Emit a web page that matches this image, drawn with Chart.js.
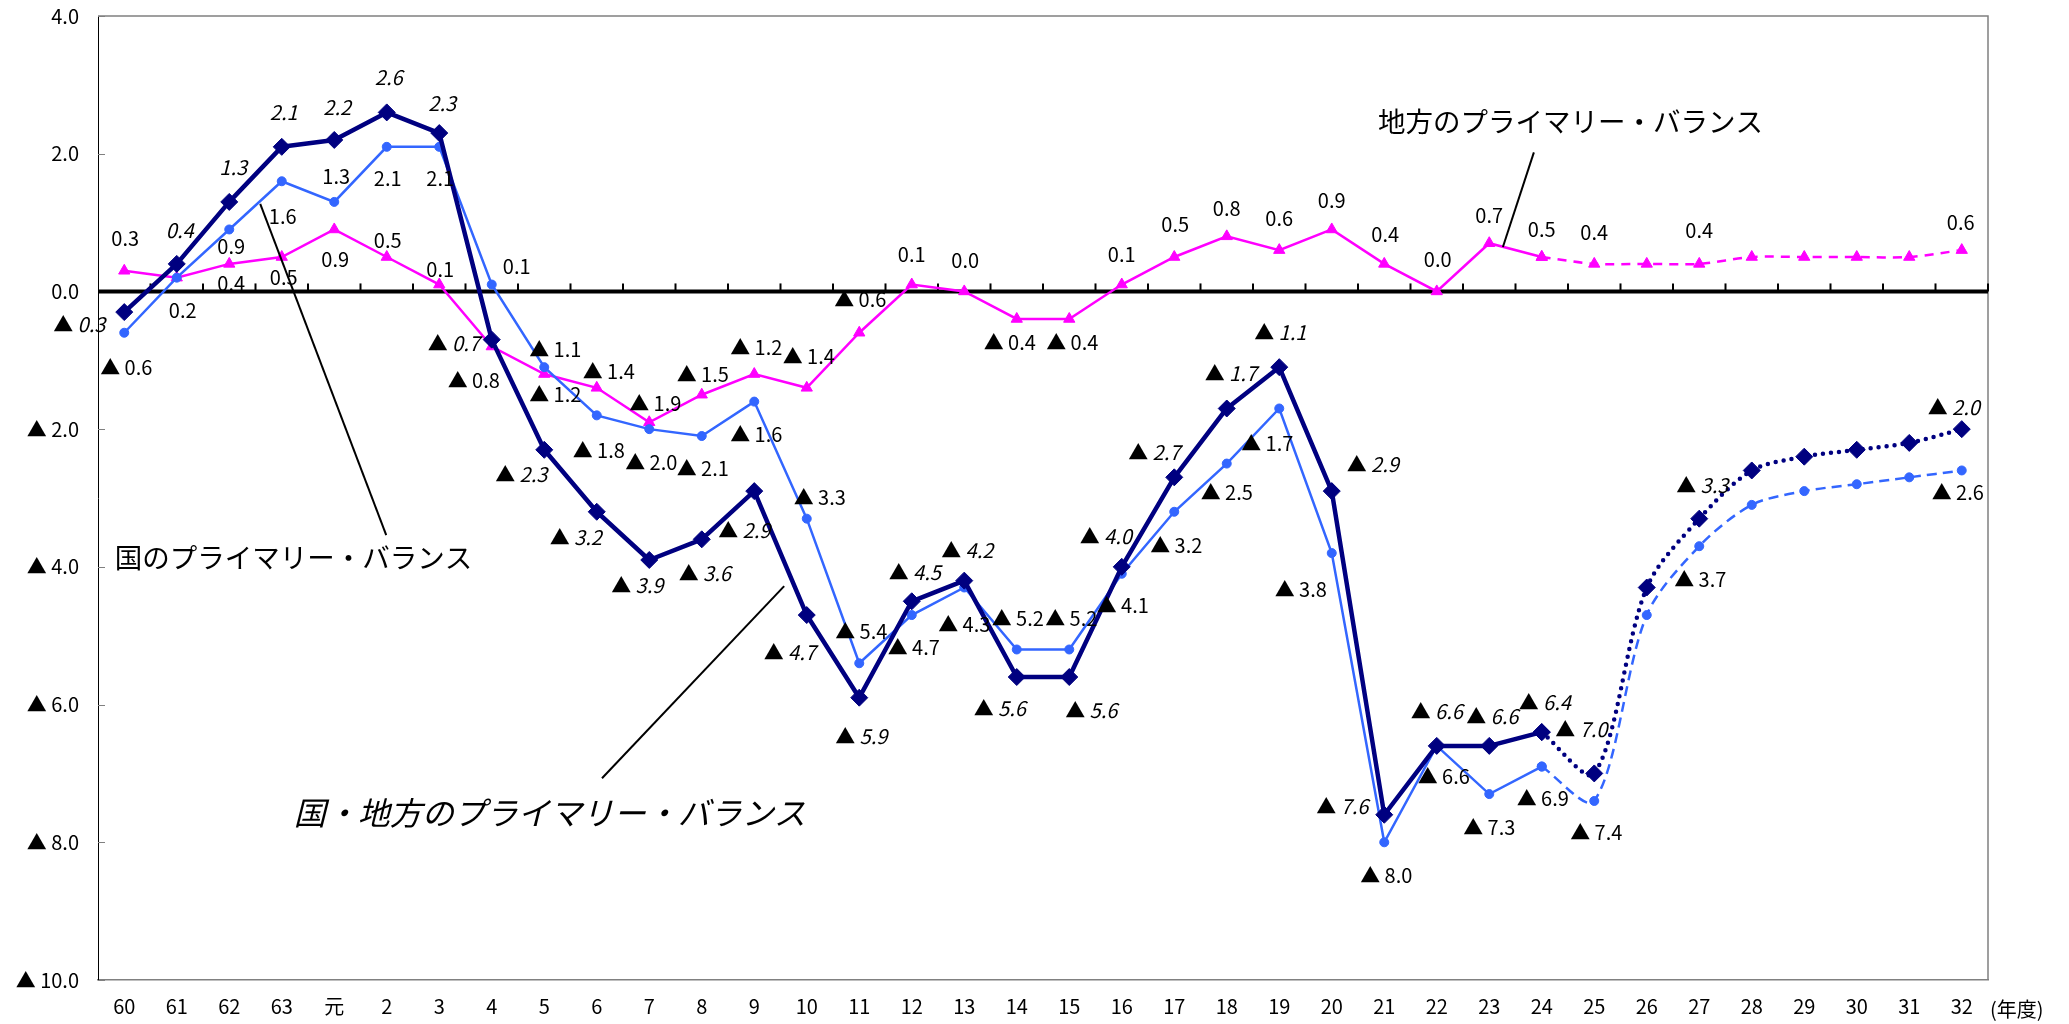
<!DOCTYPE html>
<html lang="ja">
<head>
<meta charset="utf-8">
<title>プライマリー・バランスの推移</title>
<script src="https://cdn.jsdelivr.net/npm/chart.js@4.4.1/dist/chart.umd.min.js"></script>
<style>
html, body { margin: 0; padding: 0; background: #fff; }
#wrap { width: 2069px; height: 1024px; }
</style>
</head>
<body>
<div id="wrap"><canvas id="pb" width="2069" height="1024"></canvas></div>
<script>
// 年度（昭和60年度〜平成32年度）
const years = ['60','61','62','63','元','2','3','4','5','6','7','8','9','10','11','12','13','14',
  '15','16','17','18','19','20','21','22','23','24','25','26','27','28','29','30','31','32'];

// 国・地方のプライマリー・バランス（対GDP比、%）
const totalPB = [-0.3, 0.4, 1.3, 2.1, 2.2, 2.6, 2.3, -0.7, -2.3, -3.2, -3.9, -3.6, -2.9, -4.7, -5.9, -4.5,
  -4.2, -5.6, -5.6, -4.0, -2.7, -1.7, -1.1, -2.9, -7.6, -6.6, -6.6, -6.4, -7.0, -4.3, -3.3, -2.6, -2.4, -2.3, -2.2, -2.0];

// 国のプライマリー・バランス
const nationalPB = [-0.6, 0.2, 0.9, 1.6, 1.3, 2.1, 2.1, 0.1, -1.1, -1.8, -2.0, -2.1, -1.6, -3.3, -5.4, -4.7,
  -4.3, -5.2, -5.2, -4.1, -3.2, -2.5, -1.7, -3.8, -8.0, -6.6, -7.3, -6.9, -7.4, -4.7, -3.7, -3.1, -2.9, -2.8, -2.7, -2.6];

// 地方のプライマリー・バランス
const localPB = [0.3, 0.2, 0.4, 0.5, 0.9, 0.5, 0.1, -0.8, -1.2, -1.4, -1.9, -1.5, -1.2, -1.4, -0.6, 0.1,
  0.0, -0.4, -0.4, 0.1, 0.5, 0.8, 0.6, 0.9, 0.4, 0.0, 0.7, 0.5, 0.4, 0.4, 0.4, 0.5, 0.5, 0.5, 0.5, 0.6];

// 縦軸目盛
const yTicks = [-10, -8, -6, -4, -2, 0, 2, 4];

// 見通し（破線・点線）に切り替わる年度
const projFrom = years.indexOf('24');

// 数値ラベルの位置（点からのずれ, px）。null はラベルなし
const totalLabelPos = [
  [-45,12],[3,-33],[4,-35],[2,-34],[3,-33],[2,-35],[3,-30],[-38,4],[-23,25],[-21,26],
  [-12,25],[3,34],[-10,39],[-17,37],[2,39],[3,-29],[3,-30],[-17,31],[22,33],[-16,-30],
  [-20,-25],[4,-35],[1,-35],[41,-27],[-42,-8],[0,-34],[3,-29],[3,-30],[-13,-44],null,
  [3,-33],null,null,null,null,[-8,-22]];
const nationalLabelPos = [
  [2,35],[6,33],[2,17],[1,35],[2,-26],[1,32],[1,32],[25,-18],[11,-18],[2,35],
  [2,33],[1,32],[2,33],[13,-21],[2,-32],[2,32],[0,37],[1,-31],[2,-31],[1,32],
  [2,34],[0,29],[-12,35],[-31,36],[2,33],[7,31],[0,33],[1,32],[2,31],null,
  [1,33],null,null,null,null,[-4,22]];
const localLabelPos = [
  [1,-32],null,[2,20],[2,20],[1,30],[1,-17],[1,-15],[-18,34],[11,20],[12,-16],
  [6,-19],[1,-20],[2,-27],[2,-31],[1,-33],[0,-30],[1,-31],[-7,23],[3,23],[0,-30],
  [1,-33],[0,-28],[0,-32],[0,-29],[1,-29],[1,-32],[0,-28],[0,-28],[0,-31],null,
  [0,-33],null,null,null,null,[-1,-28]];

// 系列名の注記（位置は 年度インデックス / 値 の座標）
const notes = [
  { text: '地方のプライマリー・バランス', x: 23.88, y: 2.47, size: 27.5, italic: false,
    line: [[26.85, 2.02], [26.26, 0.645]] },
  { text: '国のプライマリー・バランス', x: -0.18, y: -3.86, size: 27.5, italic: false,
    line: [[2.59, 1.27], [4.99, -3.54]] },
  { text: '国・地方のプライマリー・バランス', x: 3.23, y: -7.57, size: 32, italic: true,
    line: [[12.57, -4.28], [9.1, -7.07]] }
];

const NUM_FONT = '"Noto Sans CJK JP", "Liberation Sans", sans-serif';
const JP_FONT = '"Noto Sans CJK JP", "Liberation Sans", sans-serif';
const NAVY = '#000080', BLUE = '#3366FF', PINK = '#FF00FF';

const fmt = v => (v < 0 ? '▲ ' + Math.abs(v).toFixed(1) : Math.abs(v).toFixed(1));

const upTo = (arr, n) => arr.map((v, i) => (i <= n ? v : null));
const from = (arr, n) => arr.map((v, i) => (i >= n ? v : null));

// 枠線・ゼロ線・目盛
const framePlugin = {
  id: 'frame',
  beforeDatasetsDraw(chart) {
    const { ctx, chartArea: a, scales: { x, y } } = chart;
    ctx.save();
    ctx.strokeStyle = '#808080';
    ctx.lineWidth = 1.5;
    ctx.beginPath();
    ctx.moveTo(a.left, a.top); ctx.lineTo(a.right, a.top); ctx.lineTo(a.right, a.bottom);
    ctx.stroke();
    // 縦軸の目盛（内向き）
    ctx.lineWidth = 1;
    yTicks.forEach(v => {
      const py = Math.round(y.getPixelForValue(v)) + 0.5;
      ctx.beginPath(); ctx.moveTo(a.left, py); ctx.lineTo(a.left + 7, py); ctx.stroke();
    });
    // ゼロ線と区切り目盛
    const y0 = y.getPixelForValue(0);
    ctx.strokeStyle = '#000';
    ctx.lineWidth = 4;
    ctx.beginPath(); ctx.moveTo(a.left, y0); ctx.lineTo(a.right, y0); ctx.stroke();
    ctx.lineWidth = 2;
    const step = x.getPixelForValue(1) - x.getPixelForValue(0);
    for (let i = 1; i <= years.length; i++) {
      const px = Math.min(a.right, x.getPixelForValue(i - 1) + step / 2);
      ctx.beginPath(); ctx.moveTo(px, y0 - 8); ctx.lineTo(px, y0); ctx.stroke();
    }
    ctx.restore();
  }
};

// 数値ラベル・注記
function drawValue(ctx, cx, cy, v, italic) {
  const num = Math.abs(v).toFixed(1);
  const upright = '20px ' + NUM_FONT;
  const numFont = (italic ? 'italic ' : '') + '20px ' + NUM_FONT;
  ctx.font = upright;
  const head = v < 0 ? '▲ ' : '';
  const wHead = ctx.measureText(head).width;
  ctx.font = numFont;
  const wNum = ctx.measureText(num).width;
  let sx = cx - (wHead + wNum) / 2;
  if (head) { ctx.font = upright; ctx.fillText(head, sx, cy); }
  ctx.font = numFont;
  ctx.fillText(num, sx + wHead, cy);
}

const labelPlugin = {
  id: 'labels',
  afterDatasetsDraw(chart) {
    const { ctx, scales: { x, y } } = chart;
    ctx.save();
    ctx.fillStyle = '#000';
    ctx.textAlign = 'left';
    ctx.textBaseline = 'middle';
    const sets = [[totalPB, totalLabelPos, true], [nationalPB, nationalLabelPos, false], [localPB, localLabelPos, false]];
    sets.forEach(([vals, pos, italic]) => {
      vals.forEach((v, i) => {
        const p = pos[i];
        if (!p) return;
        drawValue(ctx, x.getPixelForValue(i) + p[0], y.getPixelForValue(v) + p[1], v, italic);
      });
    });
    // 注記
    const x0 = x.getPixelForValue(0);
    const step = x.getPixelForValue(1) - x0;
    const px = idx => x0 + idx * step;
    notes.forEach(n => {
      ctx.strokeStyle = '#000';
      ctx.lineWidth = 2;
      ctx.beginPath();
      ctx.moveTo(px(n.line[0][0]), y.getPixelForValue(n.line[0][1]));
      ctx.lineTo(px(n.line[1][0]), y.getPixelForValue(n.line[1][1]));
      ctx.stroke();
      ctx.font = (n.italic ? 'italic ' : '') + n.size + 'px ' + JP_FONT;
      ctx.fillText(n.text, px(n.x), y.getPixelForValue(n.y));
    });
    // 年度の単位
    const a = chart.chartArea;
    ctx.font = '20px ' + JP_FONT;
    ctx.fillText('(年度)', a.right + 2, 1009);
    ctx.restore();
  }
};

const lineSet = (data, color, width, style, radius, order, extra) => Object.assign({
  data, borderColor: color, backgroundColor: color, borderWidth: width,
  pointStyle: style, pointRadius: radius, pointHoverRadius: radius,
  pointBackgroundColor: color, pointBorderColor: color, pointBorderWidth: 1,
  tension: 0, spanGaps: false, order, fill: false
}, extra || {});

new Chart(document.getElementById('pb'), {
  type: 'line',
  data: {
    labels: years,
    datasets: [
      lineSet(upTo(totalPB, projFrom), NAVY, 4.5, 'rectRot', 8.5, 0, { borderCapStyle: 'round', borderJoinStyle: 'round' }),
      lineSet(from(totalPB, projFrom), NAVY, 4.5, 'rectRot', 8.5, 0, { borderCapStyle: 'round', borderDash: [0, 8], tension: 0.3 }),
      lineSet(upTo(nationalPB, projFrom), BLUE, 2.5, 'circle', 4.5, 1),
      lineSet(from(nationalPB, projFrom), BLUE, 2.5, 'circle', 4.5, 1, { borderDash: [10, 6], tension: 0.3 }),
      lineSet(upTo(localPB, projFrom), PINK, 2.5, 'triangle', 6.5, 2),
      lineSet(from(localPB, projFrom), PINK, 2.5, 'triangle', 6.5, 2, { borderDash: [9, 7], tension: 0.3 })
    ]
  },
  options: {
    responsive: false,
    devicePixelRatio: 1,
    animation: false,
    layout: { padding: { top: 16, right: 81, left: 0, bottom: 0 } },
    plugins: { legend: { display: false }, tooltip: { enabled: false } },
    scales: {
      x: {
        type: 'category',
        offset: true,
        grid: { display: false, drawTicks: false },
        border: { display: true, color: '#808080', width: 1.5 },
        ticks: { autoSkip: false, maxRotation: 0, minRotation: 0, color: '#000',
          font: { family: NUM_FONT, size: 20 }, padding: 14 },
        afterFit(s) { s.height = 44; s.paddingLeft = 0; s.paddingRight = 0; }
      },
      y: {
        min: -10, max: 4,
        afterBuildTicks(s) { s.ticks = yTicks.map(v => ({ value: v })); },
        grid: { display: false, drawTicks: false },
        border: { display: true, color: '#000', width: 1 },
        ticks: { color: '#000', font: { family: NUM_FONT, size: 20 }, padding: 19, callback: v => fmt(v) },
        afterFit(s) { s.width = 98; s.paddingTop = 0; s.paddingBottom = 0; }
      }
    }
  },
  plugins: [framePlugin, labelPlugin]
});
</script>
</body>
</html>
